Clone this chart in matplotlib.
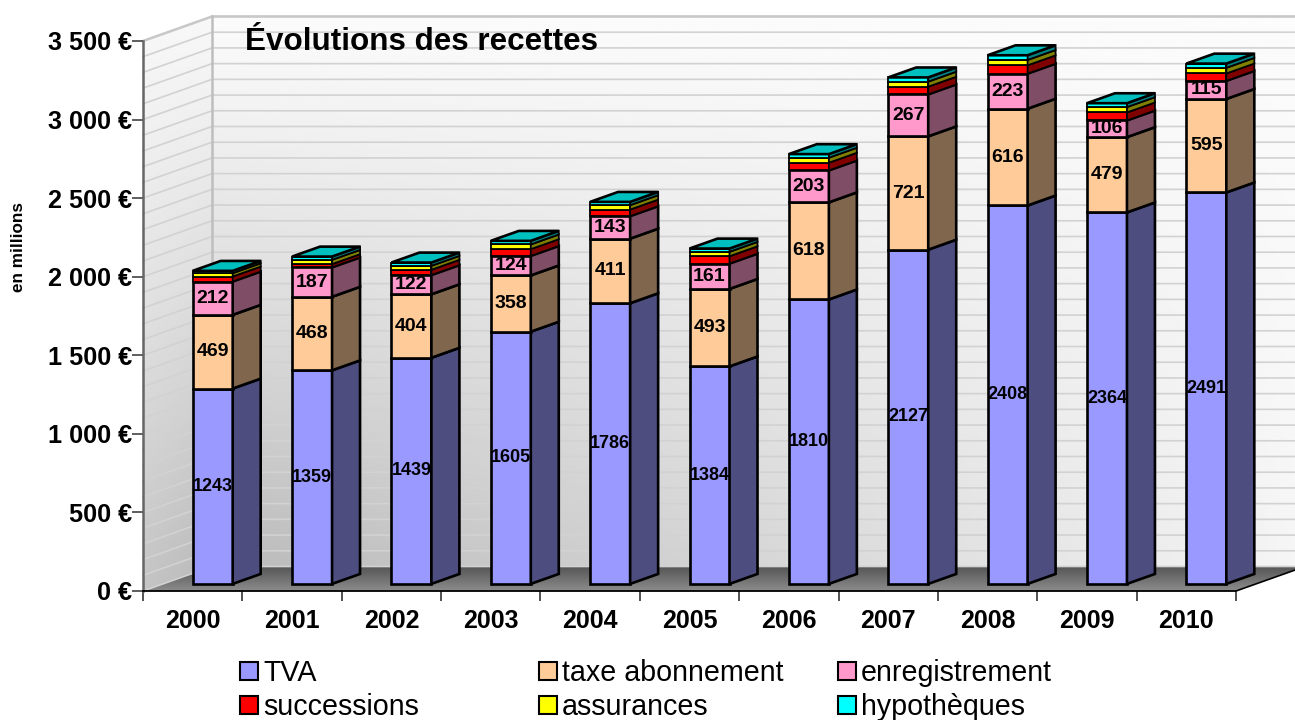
import numpy as np
import matplotlib
matplotlib.use("Agg")
import matplotlib.pyplot as plt
from matplotlib.patches import Polygon, Patch

plt.rcParams['font.family'] = ['Liberation Sans', 'DejaVu Sans']

years = ['2000','2001','2002','2003','2004','2005','2006','2007','2008','2009','2010']
tva = [1243,1359,1439,1605,1786,1384,1810,2127,2408,2364,2491]
taxe = [469,468,404,358,411,493,618,721,616,479,595]
enreg = [212,187,122,124,143,161,203,267,223,106,115]
succ = [32,21,34,43,42,47,49,49,53,51,47]
assur = [21,27,25,30,28,28,32,32,34,34,36]
hypo = [15,21,21,23,21,21,23,27,30,25,27]
names = ['TVA','taxe abonnement','enregistrement','successions','assurances','hypothèques']
series = [tva, taxe, enreg, succ, assur, hypo]
front = ['#9999FF','#FFCC99','#FF99CC','#FF0000','#FFFF00','#00FFFF']
side = ['#4D4D80','#80664D','#804D66','#800000','#808000','#008080']
top_col = '#00BFBF'
yticks = [0,500,1000,1500,2000,2500,3000,3500]
ylabels = ['0 €','500 €','1 000 €','1 500 €','2 000 €','2 500 €','3 000 €','3 500 €']

W, H = 1295, 720
fig = plt.figure(figsize=(W/100, H/100), dpi=100, facecolor='white')
L, R, T, B = 143, 1236, 41, 591
ax = fig.add_axes([L/W, 1-B/H, (R-L)/W, (B-T)/H])
ax.set_xlim(-0.5, 10.5)
ax.set_ylim(0, 3500)
ax.patch.set_visible(False)

px_x = (R-L)/11
px_y = (B-T)/3500
DX = 69/px_x
DY = 24.5/px_y
def P(x, v, d):
    return (x + DX*d, v + DY*d)

def gradient(poly_pts, arr, ext, z):
    poly = Polygon(poly_pts, closed=True, fc='none', ec='none', transform=ax.transData)
    ax.add_patch(poly)
    poly.set_clip_on(False)
    im = ax.imshow(arr, extent=ext, aspect='auto', cmap='gray', vmin=0, vmax=1,
                   origin='upper', zorder=z, interpolation='bilinear')
    im.set_clip_box(fig.bbox)
    im.set_clip_path(poly)
    return im

u, v = np.meshgrid(np.linspace(0, 1, 200), np.linspace(0, 1, 200))
# back wall
back = 0.985 - 0.235*v**1.1*(1-u)**0.9 - 0.02*v
x0b, y0b = P(-0.5, 0, 1); x1b, y1b = P(10.5, 3500, 1)
gradient([P(-0.5,0,1), P(10.5,0,1), P(10.5,3500,1), P(-0.5,3500,1)], back, (x0b, x1b, y0b, y1b), 0.5)
# left wall
lw = 0.97 - 0.20*v**1.2 - 0.05*v*u
x2, _ = P(-0.5, 0, 0)
gradient([P(-0.5,0,0), P(-0.5,0,1), P(-0.5,3500,1), P(-0.5,3500,0)], lw, (x2, x0b, 0, y1b), 0.5)
# floor
fl = 0.33 + 0.22*v
gradient([P(-0.5,0,0), P(10.5,0,0), P(10.5,0,1), P(-0.5,0,1)], fl, (x2, x1b, 0, y0b), 0.6)

# grid lines on walls
for g in range(0, 3501, 100):
    ax.plot(*zip(P(-0.5,g,0), P(-0.5,g,1), P(10.5,g,1)), color='#D2D2D2', lw=1.2,
            clip_on=False, zorder=0.8, solid_joinstyle='miter')
ax.plot(*zip(P(-0.5,3500,0), P(-0.5,3500,1), P(10.5,3500,1)), color='#C8C8C8', lw=1.8, clip_on=False, zorder=0.9)
ax.plot(*zip(P(-0.5,0,1), P(-0.5,3500,1)), color='#BEBEBE', lw=1.8, clip_on=False, zorder=0.9)
ax.plot(*zip(P(10.5,0,0), P(10.5,0,1)), color='black', lw=1.2, clip_on=False, zorder=1)

# bars
BW = 40/px_x
D1, D2 = 20/69, 48/69
x = np.arange(len(years))
bottom = np.zeros(len(years))
for k, s in enumerate(series):
    s = np.array(s, float)
    EW = 1.9 if k < 3 else 1.3
    xc = x + DX*D1
    ax.bar(xc, s, BW, bottom=bottom + DY*D1, color=front[k], edgecolor='black', lw=EW,
           clip_on=False, zorder=3, label=names[k], joinstyle='miter')
    for i in x:
        xr = i + BW/2
        b, t = bottom[i], bottom[i] + s[i]
        ax.add_patch(Polygon([P(xr,b,D1), P(xr,b,D2), P(xr,t,D2), P(xr,t,D1)], closed=True,
                             fc=side[k], ec='black', lw=EW, clip_on=False, zorder=3, joinstyle='miter'))
        if k < 3:
            ax.text(xc[i], (b+t)/2 + DY*D1, f'{int(s[i])}', ha='center', va='center',
                    fontsize=13 if k == 0 else 14, fontweight='bold', color='black', zorder=5, clip_on=False)
    bottom += s
for i in x:
    xl, xr = i - BW/2, i + BW/2
    t = bottom[i]
    ax.add_patch(Polygon([P(xl,t,D1), P(xr,t,D1), P(xr,t,D2), P(xl,t,D2)], closed=True,
                         fc=top_col, ec='black', lw=1.9, clip_on=False, zorder=4, joinstyle='miter'))

# axes
for sp in ('top', 'right'):
    ax.spines[sp].set_visible(False)
ax.spines['left'].set_color('#666666')
ax.spines['left'].set_linewidth(1.8)
ax.spines['bottom'].set_color('black')
ax.spines['bottom'].set_linewidth(1.3)
ax.set_yticks(yticks)
ax.set_yticklabels(ylabels, fontsize=18.2, fontweight='bold')
ax.tick_params(axis='y', length=8, width=1.1, color='#333333', pad=0)
ax.set_xticks(np.arange(-0.5, 11, 1))
ax.set_xticklabels([])
ax.tick_params(axis='x', which='major', length=7.5, width=1.3, color='#444444')
ax.set_xticks(x, minor=True)
ax.set_xticklabels(years, minor=True, fontsize=18, fontweight='bold')
ax.tick_params(axis='x', which='minor', length=0, pad=13)

ax.set_ylabel('en millions', fontsize=12.3, fontweight='bold')
ax.yaxis.set_label_coords((26-L)/(R-L), (B-247)/(B-T))
ax.set_title('Évolutions des recettes', fontsize=22.6, fontweight='bold',
             x=(245-L)/(R-L), y=(B-50)/(B-T), ha='left', va='center')

# legend: three columns, two rows
for c, xpos in enumerate([240, 539, 838]):
    hs = [Patch(fc=front[c], ec='black', lw=1.5), Patch(fc=front[c+3], ec='black', lw=1.5)]
    leg = fig.legend(hs, [names[c], names[c+3]], loc='upper left',
                     bbox_to_anchor=(xpos/W, 1-659/H), frameon=False, fontsize=20.6,
                     borderpad=0, borderaxespad=0, handlelength=0.63, handleheight=0.58,
                     handletextpad=0.17, labelspacing=0.22)

fig.savefig('out.png', dpi=100)
